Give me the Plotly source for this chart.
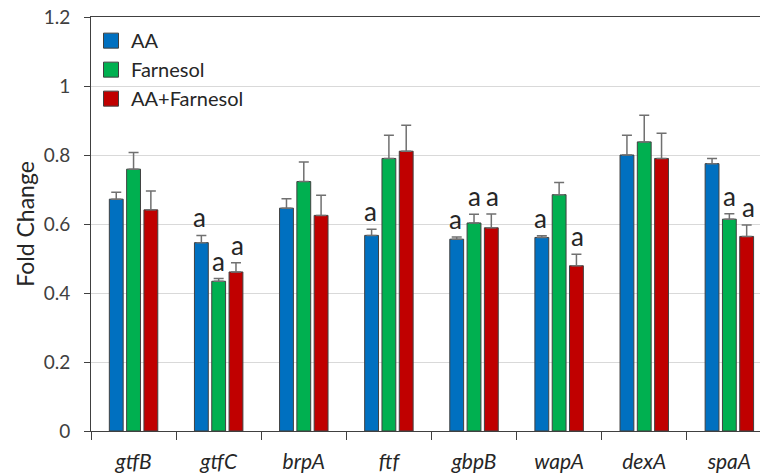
import plotly.graph_objects as go

genes = ["gtfB", "gtfC", "brpA", "ftf", "gbpB", "wapA", "dexA", "spaA"]
aa = [0.672, 0.546, 0.646, 0.567, 0.556, 0.561, 0.800, 0.775]
aa_sd = [0.020, 0.021, 0.027, 0.018, 0.006, 0.005, 0.057, 0.015]
far = [0.759, 0.434, 0.723, 0.790, 0.603, 0.685, 0.838, 0.614]
far_sd = [0.048, 0.008, 0.057, 0.067, 0.025, 0.035, 0.077, 0.016]
aaf = [0.641, 0.461, 0.625, 0.811, 0.589, 0.479, 0.790, 0.564]
aaf_sd = [0.055, 0.027, 0.058, 0.075, 0.040, 0.033, 0.073, 0.033]
# significance marks ("a") per series
aa_sig = [False, True, False, True, True, True, False, False]
far_sig = [False, True, False, False, True, False, False, True]
aaf_sig = [False, True, False, False, True, True, False, True]

y_ticks = [0, 0.2, 0.4, 0.6, 0.8, 1.0, 1.2]
y_ticktext = ["0", "0.2", "0.4", "0.6", "0.8", "1", "1.2"]

series = [
    ("AA", aa, aa_sd, aa_sig, "#0070C0"),
    ("Farnesol", far, far_sd, far_sig, "#00B050"),
    ("AA+Farnesol", aaf, aaf_sd, aaf_sig, "#C00000"),
]

labels = [f"<i>{g}</i>" for g in genes]
font_fam = "Lato, Open Sans, sans-serif"

fig = go.Figure()
for name, vals, sd, sig, col in series:
    fig.add_trace(go.Bar(
        name=name, x=labels, y=vals, showlegend=False,
        marker=dict(color=col, line=dict(color="#404040", width=1)),
        error_y=dict(type="data", symmetric=False, array=sd,
                     arrayminus=[0] * len(sd), color="#707070",
                     thickness=1.5, width=5),
    ))
# legend entries with square swatches
for name, vals, sd, sig, col in series:
    fig.add_trace(go.Scatter(
        name=name, x=[None], y=[None], mode="markers",
        marker=dict(symbol="square", size=15, color=col,
                    line=dict(color="#404040", width=1)),
    ))

# annotations "a" above error bars
pitch = 18.7
for i, (name, vals, sd, sig, col) in enumerate(series):
    for j, g in enumerate(labels):
        if sig[j]:
            fig.add_annotation(
                x=g, y=vals[j] + sd[j], xref="x", yref="y",
                text="a", showarrow=False, yanchor="bottom",
                xshift=(i - 1) * pitch, yshift=0,
                font=dict(family=font_fam, size=26, color="#262626"),
            )

fig.update_layout(
    width=760, height=475,
    margin=dict(l=91, r=0, t=17, b=44),
    paper_bgcolor="white", plot_bgcolor="white",
    barmode="group", bargap=0.39, bargroupgap=0.2,
    font=dict(family=font_fam, color="#404040"),
    showlegend=True,
    legend=dict(x=0.0, y=0.99, xanchor="left", yanchor="top",
                font=dict(size=20, color="#262626"),
                bgcolor="rgba(0,0,0,0)", tracegroupgap=0, itemwidth=30),
    xaxis=dict(
        range=[-0.5, 7.36], showline=True, linecolor="#404040", linewidth=1,
        mirror=True, ticks="outside", tickson="boundaries", ticklen=8,
        tickcolor="#404040", showgrid=False, ticklabelstandoff=12,
        tickfont=dict(size=21, color="#262626"), automargin=False,
    ),
    yaxis=dict(
        range=[0, 1.2], tickvals=y_ticks, ticktext=y_ticktext,
        showline=True, linecolor="#404040", linewidth=1,
        ticks="outside", ticklen=6, tickcolor="#404040",
        showgrid=True, gridcolor="#D9D9D9", gridwidth=1,
        zeroline=False, tickfont=dict(size=19, color="#404040"),
        ticklabelstandoff=10, ticklabeloverflow="allow",
        title=dict(text="Fold Change", font=dict(size=23, color="#262626"), standoff=2),
        automargin=False,
    ),
)

fig.write_html("out.html", config={"displayModeBar": False},
               post_script="document.body.style.margin='0px';")
